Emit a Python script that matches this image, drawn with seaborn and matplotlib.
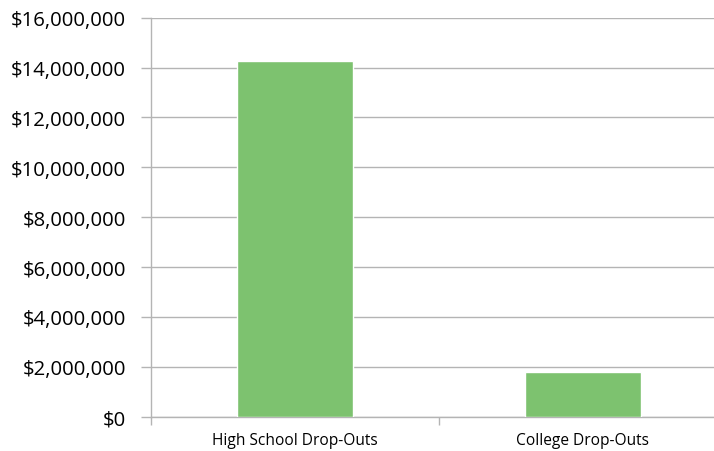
import matplotlib
matplotlib.use("Agg")
import matplotlib.pyplot as plt
import seaborn as sns
import pandas as pd
from matplotlib.ticker import FuncFormatter, MultipleLocator, FixedLocator

categories = ["High School Drop-Outs", "College Drop-Outs"]
values = [14270000, 1800000]

df = pd.DataFrame({"group": categories, "amount": values})

sns.set_style("white")
plt.rcParams["font.family"] = ["Open Sans", "DejaVu Sans"]

fig = plt.figure(figsize=(7.14, 4.52), dpi=100)
# axes runs past the right edge, like the cropped original
ax = fig.add_axes([151 / 714, (452 - 417.7) / 452, 576 / 714, 399 / 452])

grid_col = "#b4b4b4"

sns.barplot(data=df, x="group", y="amount", color="#7dc26f", width=0.4,
            saturation=1, ax=ax, zorder=3)

ax.set_xlim(-0.5, 1.5)
ax.set_ylim(0, 16000000)
ax.yaxis.set_major_locator(MultipleLocator(2000000))
ax.yaxis.set_major_formatter(FuncFormatter(lambda v, p: f"${v:,.0f}"))
ax.grid(axis="y", color=grid_col, linewidth=1.0, zorder=0)
ax.set_axisbelow(True)

for s in ["top", "right"]:
    ax.spines[s].set_visible(False)
ax.spines["left"].set_color(grid_col)
ax.spines["bottom"].set_color(grid_col)
ax.spines["left"].set_linewidth(1.0)
ax.spines["bottom"].set_linewidth(1.0)

ax.set_xlabel("")
ax.set_ylabel("")
ax.tick_params(axis="y", length=7, width=1.0, color=grid_col, pad=11,
               labelsize=14.6, labelcolor="#000000", left=True)
ax.tick_params(axis="x", which="major", length=0, pad=11, labelsize=11.2,
               labelcolor="#000000")
ax.xaxis.set_minor_locator(FixedLocator([-0.5, 0.5, 1.5]))
ax.tick_params(axis="x", which="minor", length=6, width=1.0, color=grid_col,
               bottom=True)

fig.savefig("out.png", dpi=100)
